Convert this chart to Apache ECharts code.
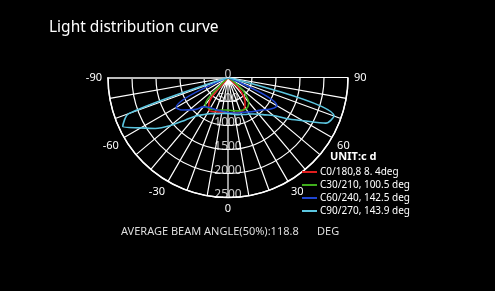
<!DOCTYPE html>
<html>
<head>
<meta charset="utf-8">
<script src="https://cdn.jsdelivr.net/npm/echarts@6/dist/echarts.min.js"></script>
<style>
    html, body { margin: 0; padding: 0; background: #000; }
    #chart { width: 495px; height: 291px; }
</style>
</head>
<body>
<div id="chart"></div>
<script>
// angles (deg, 0 = straight down) and intensities (cd) per C plane
const angles = [-90, -85, -80, -75, -70, -65, -60, -55, -50, -45, -40, -35, -30, -25, -20, -15, -10, -5, 0,
    5, 10, 15, 20, 25, 30, 35, 40, 45, 50, 55, 60, 65, 70, 75, 80, 85, 90];
const c0 = [0, 0, 0, 0, 0, 0, 0, 0, 0, 0, 20, 700, 790, 780, 760, 745, 735, 730, 730,
    740, 750, 760, 766, 750, 700, 620, 500, 320, 20, 0, 0, 0, 0, 0, 0, 0, 0];
const c30 = [0, 0, 0, 0, 0, 0, 0, 0, 0, 250, 740, 763, 750, 735, 720, 705, 690, 680, 680,
    690, 705, 720, 735, 748, 752, 730, 670, 530, 380, 150, 0, 0, 0, 0, 0, 0, 0];
const c60 = [0, 0, 0, 0, 0, 0, 1245, 1180, 1050, 940, 800, 750, 730, 720, 715, 712, 715, 720, 730,
    740, 750, 765, 777, 800, 830, 870, 910, 960, 1040, 1130, 1177, 0, 0, 0, 0, 0, 0];
const c90 = [0, 0, 0, 0, 2200, 2420, 2100, 1850, 1550, 1250, 1050, 950, 880, 830, 800, 780, 760, 750, 750,
    760, 780, 800, 820, 850, 880, 930, 1000, 1100, 1230, 1500, 1800, 2250, 2350, 0, 0, 0, 0];

const seriesNames = ['C0/180,8 8. 4deg', 'C30/210, 100.5 deg', 'C60/240, 142.5 deg', 'C90/270, 143.9 deg'];
const seriesColors = ['#e01e1e', '#3fae1c', '#1f45d0', '#5cc6e0'];
const ringLabels = [0, 500, 1000, 1500, 2000, 2500];

let chart = echarts.init(document.getElementById('chart'));

function toPolar(values) {
    let out = [];
    for (let i = 0; i < angles.length; i++) {
        out.push([values[i], angles[i]]);
    }
    return out;
}

let curves = [c0, c30, c60, c90].map(function (vals, i) {
    return {
        name: seriesNames[i],
        type: 'line',
        coordinateSystem: 'polar',
        showSymbol: false,
        symbol: 'none',
        smooth: 0.3,
        animation: false,
        z: 3,
        lineStyle: { color: seriesColors[i], width: 1.6 },
        itemStyle: { color: seriesColors[i] },
        data: toPolar(vals)
    };
});

let option = {
    backgroundColor: '#000',
    animation: false,
    textStyle: { fontFamily: 'Noto Sans' },
    title: [
        {
            text: 'Light distribution curve', left: 49, top: 20, padding: 0,
            textStyle: { color: '#fff', fontSize: 15.5, fontWeight: 'normal', fontFamily: 'Noto Sans' }
        },
        {
            text: 'UNIT:c d', left: 330, top: 151, padding: 0,
            textStyle: { color: '#fff', fontSize: 11, fontWeight: 'bold', fontFamily: 'Noto Sans' }
        },
        {
            text: 'AVERAGE BEAM ANGLE(50%):118.8', left: 121, top: 226, padding: 0,
            textStyle: { color: '#ddd', fontSize: 11, fontWeight: 'normal', fontFamily: 'Noto Sans' }
        },
        {
            text: 'DEG', left: 317, top: 226, padding: 0,
            textStyle: { color: '#ddd', fontSize: 11, fontWeight: 'normal', fontFamily: 'Noto Sans' }
        }
    ],
    legend: {
        orient: 'vertical',
        left: 302,
        top: 167,
        padding: 0,
        itemGap: 3,
        itemWidth: 15,
        itemHeight: 2,
        icon: 'rect',
        data: seriesNames,
        textStyle: { color: '#fff', fontSize: 10, padding: [0, 0, 0, -2] }
    },
    polar: {
        center: [228, 77.5],
        radius: 120
    },
    angleAxis: {
        type: 'value',
        min: -90,
        max: 90,
        interval: 10,
        startAngle: 180,
        endAngle: 360,
        clockwise: false,
        axisTick: { show: false },
        axisLine: { lineStyle: { color: '#fff', width: 1.5 } },
        splitLine: { lineStyle: { color: '#fff', width: 1.2 } },
        axisLabel: {
            color: '#fff',
            fontSize: 11,
            margin: 6,
            formatter: function (v) {
                return v % 30 === 0 ? String(v) : '';
            }
        }
    },
    radiusAxis: {
        type: 'value',
        min: 0,
        max: 2500,
        interval: 500,
        axisTick: { show: false },
        axisLabel: { show: false },
        axisLine: { lineStyle: { color: '#bbb', width: 2 } },
        splitLine: { lineStyle: { color: '#fff', width: 1.2 } }
    },
    series: curves.concat([{
        type: 'scatter',
        coordinateSystem: 'polar',
        symbolSize: 0,
        silent: true,
        z: 4,
        label: {
            show: true,
            color: '#fff',
            fontSize: 12,
            position: 'inside',
            offset: [0, -3],
            formatter: function (p) { return p.value[0]; }
        },
        data: ringLabels.map(function (r) {
            if (r === 0) {
                return { value: [r, 0], label: { position: 'top', offset: [0, 3], distance: 0 } };
            }
            return [r, 0];
        })
    }])
};

chart.setOption(option);
</script>
</body>
</html>
